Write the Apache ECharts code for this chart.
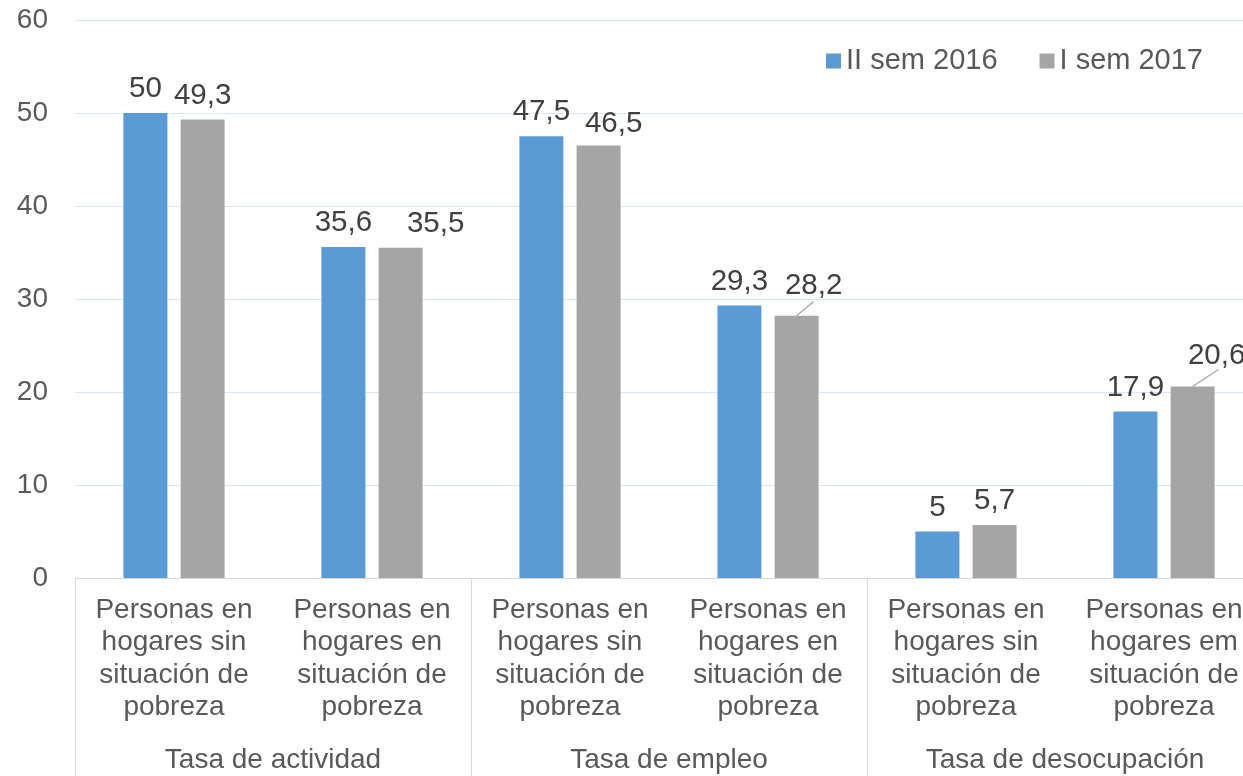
<!DOCTYPE html>
<html>
<head>
<meta charset="utf-8">
<script src="https://cdn.jsdelivr.net/npm/echarts@6/dist/echarts.min.js"></script>
<style>html,body{margin:0;padding:0;background:#fff;overflow:hidden;width:1243px;height:776px}#c{width:1263px;height:776px}</style>
</head>
<body>
<div id="c"></div>
<script>
const categories = [
  'Personas en\nhogares sin\nsituación de\npobreza',
  'Personas en\nhogares en\nsituación de\npobreza',
  'Personas en\nhogares sin\nsituación de\npobreza',
  'Personas en\nhogares en\nsituación de\npobreza',
  'Personas en\nhogares sin\nsituación de\npobreza',
  'Personas en\nhogares em\nsituación de\npobreza'
];
const groups = ['Tasa de actividad', 'Tasa de empleo', 'Tasa de desocupación'];
const seriesNames = ['II sem 2016', 'I sem 2017'];
const s2016 = [50, 35.6, 47.5, 29.3, 5, 17.9];
const s2017 = [49.3, 35.5, 46.5, 28.2, 5.7, 20.6];

const FONT = '"Liberation Sans", Arial, sans-serif';
// label displacement (px) and optional leader-line end (px) for moved labels of series 2
const moved = {
  1: {label: [35, 0]},
  2: {label: [15, 2]},
  3: {label: [17, -6], line: [17, -14]},
  5: {label: [24, -7], line: [26, -17]}
};
const BAR_W = 44, BAR_GAP_PX = 13;

const chart = echarts.init(document.getElementById('c'), null, {renderer: 'canvas'});
const labelStyle = {
  show: true, position: 'top', distance: 9,
  color: '#404040', fontSize: 29.5, fontFamily: FONT,
  formatter: p => String(p.value).replace('.', ',')
};
chart.setOption({
  animation: false,
  textStyle: {fontFamily: FONT},
  grid: {left: 75, right: 0, top: 20, bottom: 196, containLabel: false},
  legend: {
    data: seriesNames, left: 826, top: 46, icon: 'rect', padding: 0,
    itemWidth: 15, itemHeight: 15, itemGap: 42,
    textStyle: {fontSize: 29, color: '#595959', fontFamily: FONT, lineHeight: 30}
  },
  xAxis: [{
    type: 'category', data: categories, position: 'bottom',
    axisLine: {show: true, lineStyle: {color: '#d9d9d9', width: 1}},
    axisTick: {show: false},
    axisLabel: {interval: 0, margin: 16, fontSize: 28, lineHeight: 32.5, color: '#595959', fontFamily: FONT, align: 'center'}
  }, {
    type: 'category', data: groups, position: 'bottom',
    axisLine: {show: false},
    axisTick: {show: true, length: 200, lineStyle: {color: '#d9d9d9', width: 1}},
    axisLabel: {interval: 0, margin: 166, fontSize: 28, lineHeight: 32, color: '#595959', fontFamily: FONT}
  }],
  yAxis: {
    type: 'value', min: 0, max: 60, interval: 10,
    axisLine: {show: false}, axisTick: {show: false},
    axisLabel: {margin: 27, fontSize: 28, color: '#595959', fontFamily: FONT},
    splitLine: {lineStyle: {color: '#d9e6f4', width: 1}}
  },
  series: [{
    name: seriesNames[0], type: 'bar', xAxisIndex: 0, data: s2016,
    barWidth: BAR_W, barGap: '30%',
    itemStyle: {color: '#5b9bd5'}, label: labelStyle
  }, {
    name: seriesNames[1], type: 'bar', xAxisIndex: 0, data: s2017,
    barWidth: BAR_W, barGap: '30%',
    itemStyle: {color: '#a5a5a5'}, label: labelStyle,
    labelLayout: p => {
      const m = moved[p.dataIndex];
      return m ? {dx: m.label[0], dy: m.label[1]} : {};
    }
  }, {
    name: 'leader', type: 'custom', xAxisIndex: 0, silent: true, z: 5,
    data: s2017.map((v, i) => [i, v]),
    renderItem: (params, api) => {
      const i = api.value(0);
      const m = moved[i];
      if (!m || !m.line) return null;
      const p = api.coord([i, api.value(1)]);
      const x0 = p[0] + (BAR_W + BAR_GAP_PX) / 2;
      return {
        type: 'line',
        shape: {x1: x0, y1: p[1], x2: x0 + m.line[0], y2: p[1] + m.line[1]},
        style: {stroke: '#a6a6a6', lineWidth: 1.3}
      };
    }
  }]
});
</script>
</body>
</html>
